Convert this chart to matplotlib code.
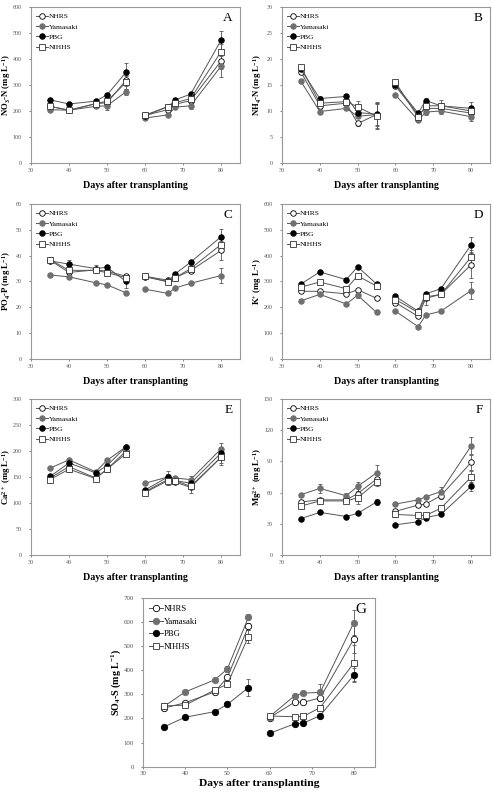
import matplotlib
matplotlib.use('Agg')
import matplotlib.pyplot as plt
import numpy as np

plt.rcParams['font.family'] = ['Liberation Serif', 'DejaVu Serif']
plt.rcParams['mathtext.fontset'] = 'custom'
plt.rcParams['mathtext.bf'] = 'Liberation Serif:bold'
plt.rcParams['mathtext.rm'] = 'Liberation Serif:bold'
plt.rcParams['mathtext.default'] = 'bf'

# Sampling days (two nutrient-solution periods)
days = [35, 40, 47, 50, 55, 60, 66, 68, 72, 80]
series = ['NHRS', 'Yamasaki', 'PBG', 'NIHHS']

# values per panel: rows = NHRS, Yamasaki, PBG, NIHHS
no3 = [[218, 203, 228, 232, 318, 183, 205, 226, 240, 392],
       [205, 203, 218, 220, 274, 173, 185, 215, 220, 372],
       [243, 227, 238, 262, 349, 182, 216, 243, 265, 472],
       [218, 203, 228, 238, 310, 184, 217, 232, 248, 428]]
no3_err = [[8, 6, 8, 10, 20, 6, 6, 8, 10, 30],
           [6, 6, 8, 18, 12, 6, 6, 8, 14, 40],
           [8, 6, 6, 8, 35, 6, 6, 6, 8, 35],
           [8, 6, 8, 10, 25, 6, 6, 8, 10, 30]]

nh4 = [[17.5, 11.0, 11.5, 7.6, 9.3, 14.8, 9.3, 10.5, 10.5, 9.6],
       [15.7, 9.9, 10.5, 9.0, 9.3, 13.1, 8.2, 9.8, 10.0, 8.9],
       [18.0, 12.4, 12.8, 9.7, 9.4, 15.0, 9.6, 12.0, 11.0, 10.5],
       [18.5, 11.5, 11.8, 10.8, 9.0, 15.5, 8.8, 11.0, 11.0, 10.0]]
nh4_err = [[0.4, 0.4, 0.4, 0.4, 2.5, 0.4, 0.4, 0.5, 0.6, 0.8],
           [0.4, 0.4, 0.4, 0.4, 2.0, 0.4, 0.4, 0.5, 0.6, 0.8],
           [0.4, 0.4, 0.4, 0.6, 2.2, 0.4, 0.4, 0.5, 0.6, 1.2],
           [0.4, 0.4, 0.4, 1.1, 2.5, 0.4, 0.4, 0.5, 1.2, 1.0]]

po4 = [[38.2, 33.5, 34.5, 34.0, 32.0, 32.0, 30.5, 31.5, 34.2, 42.0],
       [32.5, 31.8, 29.5, 28.7, 25.6, 27.0, 25.4, 27.5, 29.3, 32.3],
       [38.0, 36.7, 35.0, 35.5, 30.0, 31.8, 30.0, 33.0, 37.5, 47.3],
       [38.5, 34.3, 34.3, 33.4, 31.5, 32.0, 29.8, 31.5, 35.0, 44.3]]
po4_err = [[0.8, 1.0, 0.8, 0.8, 1.0, 0.6, 0.8, 1.5, 0.8, 3.5],
           [0.6, 0.8, 0.6, 0.6, 0.6, 0.6, 0.6, 0.6, 0.6, 2.8],
           [0.8, 1.8, 1.2, 0.8, 2.5, 0.6, 0.8, 0.8, 1.0, 3.0],
           [0.8, 1.0, 0.8, 0.8, 1.0, 0.6, 0.8, 1.0, 0.8, 2.0]]

k = [[262, 262, 252, 268, 235, 218, 165, 235, 250, 365],
     [225, 250, 213, 247, 180, 185, 125, 170, 185, 265],
     [290, 337, 307, 357, 290, 242, 185, 252, 272, 442],
     [278, 298, 272, 322, 282, 230, 180, 240, 250, 395]]
k_err = [[6, 6, 6, 8, 8, 6, 6, 25, 6, 50],
         [6, 6, 6, 12, 6, 6, 6, 6, 8, 33],
         [6, 6, 6, 6, 6, 6, 6, 6, 6, 30],
         [6, 6, 8, 8, 6, 6, 6, 6, 6, 25]]

ca = [[148, 170, 148, 165, 200, 122, 145, 140, 130, 188],
      [167, 183, 160, 182, 208, 138, 150, 148, 145, 204],
      [151, 177, 158, 172, 208, 125, 150, 143, 138, 196],
      [145, 165, 147, 165, 195, 120, 143, 143, 132, 188]]
ca_err = [[4, 10, 4, 5, 5, 3, 10, 4, 10, 15],
          [3, 4, 4, 5, 4, 3, 5, 3, 6, 12],
          [3, 4, 4, 6, 4, 3, 12, 4, 8, 10],
          [3, 5, 4, 5, 5, 3, 8, 4, 6, 12]]

mg = [[51, 53, 53, 59, 73, 42, 48, 49, 57, 89],
      [58, 64, 57, 66, 79, 49, 53, 56, 61, 105],
      [35, 41, 37, 40, 51, 29, 32, 36, 39, 66],
      [47, 52, 52, 55, 70, 39, 38, 38, 45, 75]]
mg_err = [[2, 2, 2, 4, 4, 2, 2, 2, 3, 7],
          [2, 4, 3, 4, 8, 2, 2, 2, 4, 8],
          [1, 1, 1, 1, 3, 1, 1, 1, 1, 4],
          [2, 2, 2, 6, 4, 2, 2, 2, 3, 6]]

so4 = [[243, 265, 310, 370, 582, 203, 268, 267, 285, 530],
       [250, 310, 360, 405, 620, 207, 295, 305, 308, 598],
       [165, 205, 228, 258, 328, 138, 178, 180, 212, 380],
       [252, 255, 318, 342, 540, 210, 207, 208, 245, 430]]
so4_err = [[6, 6, 8, 10, 15, 6, 8, 6, 10, 60],
           [6, 6, 8, 12, 12, 6, 6, 6, 35, 50],
           [5, 5, 5, 6, 35, 5, 5, 5, 6, 30],
           [6, 6, 8, 10, 25, 6, 6, 6, 8, 75]]

styles = {'NHRS': dict(marker='o', mfc='white', mec='black'),
          'Yamasaki': dict(marker='o', mfc='#707070', mec='#707070'),
          'PBG': dict(marker='o', mfc='black', mec='black'),
          'NIHHS': dict(marker='s', mfc='white', mec='#333333')}

# (letter, data, errors, ylabel, ymax, ystep, axes rect, text scale, xlabel y)
panels = [
    ('A', no3, no3_err, 'NO$_3$-N (mg L$^{-1}$)', 600, 100, [0.0629, 0.7947, 0.424, 0.1965], 1.0, -0.115),
    ('B', nh4, nh4_err, 'NH$_4$-N (mg L$^{-1}$)', 30, 5, [0.572, 0.7947, 0.422, 0.1965], 1.0, -0.115),
    ('C', po4, po4_err, 'PO$_4$-P (mg L$^{-1}$)', 60, 10, [0.0629, 0.5479, 0.424, 0.1952], 1.0, -0.115),
    ('D', k, k_err, 'K$^{+}$ (mg L$^{-1}$)', 600, 100, [0.572, 0.5479, 0.422, 0.1952], 1.0, -0.115),
    ('E', ca, ca_err, 'Ca$^{2+}$ (mg L$^{-1}$)', 300, 50, [0.0629, 0.301, 0.424, 0.1965], 1.0, -0.115),
    ('F', mg, mg_err, 'Mg$^{2+}$ (mg L$^{-1}$)', 150, 30, [0.572, 0.301, 0.422, 0.1965], 1.0, -0.115),
    ('G', so4, so4_err, 'SO$_4$-S (mg L$^{-1}$)', 700, 100, [0.290, 0.0345, 0.4706, 0.2124], 1.15, -0.075),
]

fig = plt.figure(figsize=(4.93, 7.94), dpi=100)
d = np.array(days)

for letter, vals, errs, ylab, ymax, ystep, rect, sc, xl_y in panels:
    ax = fig.add_axes(rect)
    for name, v, e in zip(series, vals, errs):
        v = np.array(v, dtype=float)
        e = np.array(e, dtype=float)
        st = styles[name]
        for seg in (slice(0, 5), slice(5, 10)):
            ax.errorbar(d[seg], v[seg], yerr=e[seg], fmt='none', ecolor='#555555',
                        elinewidth=0.6, capsize=1.3, capthick=0.6, zorder=2)
            ax.plot(d[seg], v[seg], color='#555555', lw=0.7, marker=st['marker'],
                    ms=4 * sc, mfc=st['mfc'], mec=st['mec'], mew=0.6, zorder=3,
                    label=name if seg.start == 0 else None)
    ax.set_xlim(30, 85)
    ax.set_ylim(0, ymax)
    ax.set_xticks(np.arange(30, 81, 10))
    ax.set_yticks(np.arange(0, ymax + 0.1, ystep))
    ax.tick_params(labelsize=4.3 * sc, colors='#555555', length=1.5, width=0.5,
                   direction='out')
    ax.tick_params(axis='y', pad=5)
    ax.tick_params(axis='x', pad=2)
    for sp in ax.spines.values():
        sp.set_color('#999999')
        sp.set_linewidth(0.8)
    ax.set_ylabel(ylab, fontsize=6.3 * sc, fontweight='bold')
    ax.yaxis.set_label_coords(-0.088, 0.5)
    ax.set_xlabel('Days after transplanting', fontsize=7.2 * sc, fontweight='bold')
    ax.xaxis.set_label_coords(0.5, xl_y)
    ax.text(0.965, 0.93, letter, transform=ax.transAxes, ha='right', va='center',
            fontsize=9.5 * sc)
    ax.legend(loc='upper left', frameon=False, fontsize=5.4 * sc, handlelength=1.6,
              handletextpad=0.1, labelspacing=0.55, borderaxespad=0.3,
              bbox_to_anchor=(0.0, 0.995))

fig.savefig('out.png', dpi=100)
